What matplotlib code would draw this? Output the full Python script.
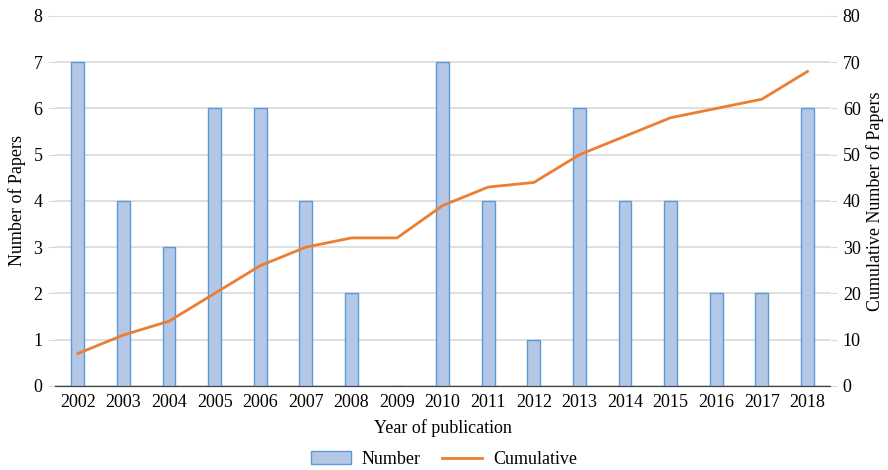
import matplotlib.pyplot as plt
import numpy as np

plt.rcParams['font.family'] = ['Liberation Serif', 'DejaVu Serif']
plt.rcParams['font.size'] = 13

years = ['2002', '2003', '2004', '2005', '2006', '2007', '2008', '2009', '2010',
         '2011', '2012', '2013', '2014', '2015', '2016', '2017', '2018']
number = [7, 4, 3, 6, 6, 4, 2, 0, 7, 4, 1, 6, 4, 4, 2, 2, 6]
cumulative = [7, 11, 14, 20, 26, 30, 32, 32, 39, 43, 44, 50, 54, 58, 60, 62, 68]

x = np.arange(len(years))

fig = plt.figure(figsize=(8.88, 4.70), dpi=100)
ax = fig.add_axes([0.062, 0.179, 0.873, 0.787])
ax2 = ax.twinx()

bars = ax.bar(x, number, width=0.28, color='#b4c7e7', edgecolor='#5b9bd5',
              linewidth=1.0, label='Number', zorder=3)
line, = ax2.plot(x, cumulative, color='#ed7d31', linewidth=2, label='Cumulative')

ax.set_xlim(-0.5, len(years) - 0.5)
ax.set_ylim(0, 8)
ax2.set_ylim(0, 80)
ax.set_yticks(range(0, 9))
ax2.set_yticks(range(0, 81, 10))
ax.set_xticks(x)
ax.set_xticklabels(years)

ax.yaxis.grid(True, color='#d9d9d9', linewidth=1.2, zorder=0)
ax.set_axisbelow(True)
for a in (ax, ax2):
    for s in ('top', 'left', 'right'):
        a.spines[s].set_visible(False)
    a.spines['bottom'].set_color('#404040')
ax.tick_params(axis='y', length=5, color='#d9d9d9', pad=4)
ax2.tick_params(axis='y', length=5, color='#d9d9d9', pad=4)
ax.tick_params(axis='x', length=0, pad=6)

ax.set_ylabel('Number of Papers', labelpad=5)
ax2.set_ylabel('Cumulative Number of Papers', labelpad=4)
ax.set_xlabel('Year of publication', labelpad=6)

fig.legend([bars, line], ['Number', 'Cumulative'], loc='lower center',
           ncol=2, frameon=False, bbox_to_anchor=(0.5, -0.03),
           handlelength=2.2, handletextpad=0.6, columnspacing=1.2)

fig.savefig('out.png', dpi=100)
